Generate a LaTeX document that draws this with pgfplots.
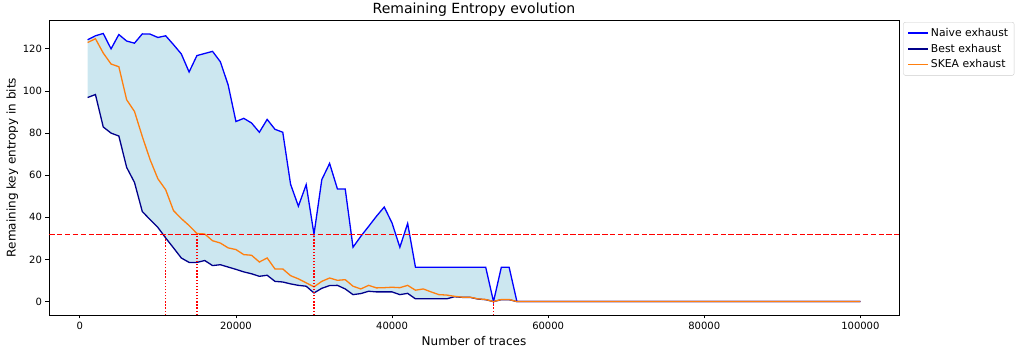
\documentclass[border=0pt]{standalone}
\usepackage{pgfplots}
\pgfplotsset{compat=1.18}
\usepackage{pgfplotstable}
\usepgfplotslibrary{fillbetween}
\usepackage{fontspec}
\setmainfont{DejaVu Sans}
\definecolor{naivec}{RGB}{0,0,255}
\definecolor{bestc}{RGB}{0,0,139}
\definecolor{skeac}{RGB}{255,127,14}
\definecolor{fillc}{RGB}{204,231,240}
\pgfplotstableread{
x naive best skea
1000 124.3 96.9 123.0
2000 126.2 98.3 124.8
3000 127.3 82.9 118.0
4000 120.0 80.0 112.8
5000 126.8 78.6 111.5
6000 123.7 63.7 95.8
7000 122.7 56.6 90.3
8000 127.1 42.8 78.4
9000 127.0 38.9 67.4
10000 125.4 35.2 58.3
11000 126.2 30.2 53.1
12000 122.0 25.5 43.2
13000 117.6 20.7 39.4
14000 109.0 18.6 36.1
15000 116.8 18.6 32.3
16000 117.8 19.5 32.1
17000 118.8 17.1 28.9
18000 113.9 17.5 27.8
19000 102.9 16.4 25.5
20000 85.5 15.3 24.7
21000 87.0 14.1 22.3
22000 84.8 13.2 22.0
23000 80.4 12.0 18.8
24000 86.5 12.5 20.7
25000 81.8 9.6 15.5
26000 80.4 9.3 15.5
27000 55.7 8.4 12.3
28000 45.3 7.7 10.8
29000 55.5 7.3 8.9
30000 32.0 4.1 7.0
31000 57.9 6.3 9.6
32000 65.6 7.6 11.2
33000 53.5 7.7 10.1
34000 53.5 6.0 10.4
35000 25.8 3.3 7.3
36000 31.0 3.8 6.0
37000 35.7 4.9 7.7
38000 40.5 4.6 6.5
39000 44.9 4.6 6.6
40000 37.3 4.6 6.8
41000 25.8 3.3 6.6
42000 37.1 3.9 7.7
43000 16.3 1.3 5.4
44000 16.3 1.3 6.0
45000 16.3 1.3 4.6
46000 16.3 1.3 3.3
47000 16.3 1.3 3.1
48000 16.3 2.3 2.5
49000 16.3 2.0 2.1
50000 16.3 2.0 2.1
51000 16.3 1.2 1.3
52000 16.3 0.9 1.0
53000 0.0 0.0 0.0
54000 16.3 0.9 1.0
55000 16.3 0.9 1.0
56000 0.0 0.0 0.0
100000 0.0 0.0 0.0
}\datatable
\begin{document}
\begin{tikzpicture}
\begin{axis}[name=ax, scale only axis, width=850pt, height=295pt,
  xmin=-3950, xmax=104950, ymin=-6.37, ymax=133.7,
  xtick={0,20000,40000,60000,80000,100000},
  ytick={0,20,40,60,80,100,120},
  scaled x ticks=false,
  x tick label style={/pgf/number format/.cd, fixed, 1000 sep={}},
  /pgf/number format/assume math mode=true,
  tick label style={font=\fontsize{10}{12}\selectfont},
  tick pos=left, tick align=outside, major tick length=3.5pt,
  tick style={black, line width=0.8pt},
  axis line style={black, line width=0.8pt},
  xlabel={Number of traces},
  ylabel={Remaining key entropy in bits},
  label style={font=\fontsize{12}{14}\selectfont},
  ylabel style={yshift=-2pt},
  legend style={at={(1.005,0.993)}, anchor=north west, font=\fontsize{10.8}{13}\selectfont,
    draw=black!20, rounded corners=2pt, row sep=2pt, inner xsep=4pt, inner ysep=4pt},
  legend cell align=left,
  legend image code/.code={\draw[#1] (0pt,0pt) -- (20pt,0pt);},
]
\addlegendimage{naivec, line width=1.5pt}
\addlegendentry{Naive exhaust}
\addlegendimage{bestc, line width=1.5pt}
\addlegendentry{Best exhaust}
\addlegendimage{skeac, line width=1.5pt}
\addlegendentry{SKEA exhaust}
\addplot[draw=none, name path=N, forget plot] table[x=x,y=naive]{\datatable};
\addplot[draw=none, name path=B, forget plot] table[x=x,y=best]{\datatable};
\addplot[fill=fillc, draw=none, forget plot] fill between[of=N and B];
\addplot[naivec, line width=1.3pt, forget plot] table[x=x,y=naive]{\datatable};
\addplot[bestc, line width=1.3pt, forget plot] table[x=x,y=best]{\datatable};
\addplot[skeac, line width=1.3pt, forget plot] table[x=x,y=skea]{\datatable};
\addplot[red, line width=1.2pt, dash pattern=on 5.5pt off 2.4pt, forget plot] coordinates {(-3950,32) (104950,32)};
\addplot[red, line width=1.3pt, dash pattern=on 1.3pt off 1.8pt, forget plot] coordinates {(11000,-6.37) (11000,32)};
\addplot[red, line width=1.3pt, dash pattern=on 1.3pt off 1.8pt, forget plot] coordinates {(15000,-6.37) (15000,32)};
\addplot[red, line width=1.3pt, dash pattern=on 1.3pt off 1.8pt, forget plot] coordinates {(30000,-6.37) (30000,32)};
\addplot[red, line width=1.3pt, dash pattern=on 1.3pt off 1.8pt, forget plot] coordinates {(53000,-6.37) (53000,0)};
\end{axis}
\node[font=\fontsize{14}{17}\selectfont, anchor=base] at ([yshift=6pt]ax.north) {Remaining Entropy evolution};
\pgfresetboundingbox
\path (ax.south west) ++(-49pt,-40pt) rectangle ++(1027pt,355pt);
\end{tikzpicture}
\end{document}
